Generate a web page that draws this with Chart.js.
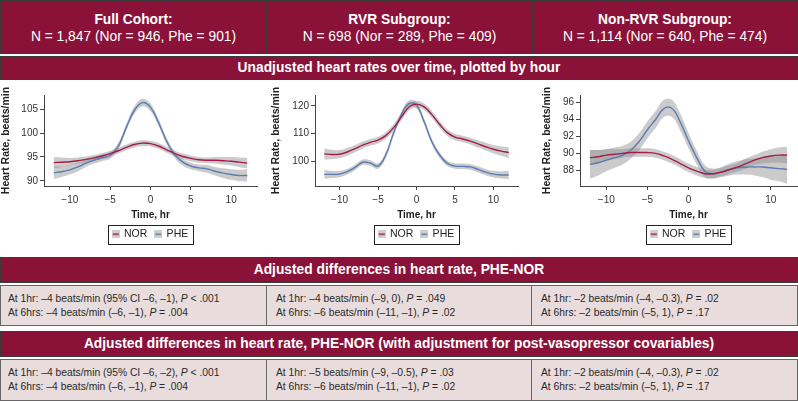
<!DOCTYPE html>
<html>
<head>
<meta charset="utf-8">
<script src="https://cdn.jsdelivr.net/npm/chart.js@4.4.1/dist/chart.umd.min.js"></script>
<style>
  body { margin: 0; width: 798px; height: 401px; overflow: hidden; background: #fff;
         font-family: "Liberation Sans", Arial, sans-serif; position: relative; }
  .box { position: absolute; box-sizing: border-box; }
  .mar { background: #8a1239; color: #fff; border: 1px solid #3a3a3a; }
  .hdr { text-align: center; font-size: 13.8px; line-height: 17px; padding-top: 10px; }
  .ban { text-align: center; font-weight: bold; font-size: 13.8px; }
  .cell { background: #e8dcdd; border: 1px solid #666; color: #2a2a2a; font-size: 10.3px;
          line-height: 14px; padding: 6px 0 0 7px; }
  canvas { position: absolute; top: 80px; }
</style>
</head>
<body>

<!-- cabecera de cohortes -->
<div class="box mar hdr" style="left:0;top:0;width:267px;height:54px"><b>Full Cohort:</b><br>N = 1,847 (Nor = 946, Phe = 901)</div>
<div class="box mar hdr" style="left:266px;top:0;width:267px;height:54px"><b>RVR Subgroup:</b><br>N = 698 (Nor = 289, Phe = 409)</div>
<div class="box mar hdr" style="left:532px;top:0;width:266px;height:54px"><b>Non-RVR Subgroup:</b><br>N = 1,114 (Nor = 640, Phe = 474)</div>

<div class="box mar ban" style="left:0;top:56px;width:798px;height:24px;line-height:22px">Unadjusted heart rates over time, plotted by hour</div>

<canvas id="c1" width="266" height="172" style="left:0"></canvas>
<canvas id="c2" width="266" height="172" style="left:266px"></canvas>
<canvas id="c3" width="266" height="172" style="left:532px"></canvas>

<div class="box mar ban" style="left:0;top:257px;width:798px;height:26px;line-height:24px">Adjusted differences in heart rate, PHE-NOR</div>
<div class="box cell" style="left:0;top:285px;width:267px;height:41px">At 1hr: –4 beats/min (95% CI –6, –1), <i>P</i> &lt; .001<br>At 6hrs: –4 beats/min (–6, –1), <i>P</i> = .004</div>
<div class="box cell" style="left:266px;top:285px;width:266px;height:41px;padding-left:9px">At 1hr: –4 beats/min (–9, 0), <i>P</i> = .049<br>At 6hrs: –6 beats/min (–11, –1), <i>P</i> = .02</div>
<div class="box cell" style="left:531px;top:285px;width:267px;height:41px;padding-left:9px">At 1hr: –2 beats/min (–4, –0.3), <i>P</i> = .02<br>At 6hrs: –2 beats/min (–5, 1), <i>P</i> = .17</div>

<div class="box mar ban" style="left:0;top:331px;width:798px;height:26px;line-height:24px">Adjusted differences in heart rate, PHE-NOR (with adjustment for post-vasopressor covariables)</div>
<div class="box cell" style="left:0;top:359px;width:267px;height:42px">At 1hr: –4 beats/min (95% CI –6, –2), <i>P</i> &lt; .001<br>At 6hrs: –4 beats/min (–6, –1), <i>P</i> = .004</div>
<div class="box cell" style="left:266px;top:359px;width:266px;height:42px;padding-left:9px">At 1hr: –5 beats/min (–9, –0.5), <i>P</i> = .03<br>At 6hrs: –6 beats/min (–11, –1), <i>P</i> = .02</div>
<div class="box cell" style="left:531px;top:359px;width:267px;height:42px;padding-left:9px">At 1hr: –2 beats/min (–4, –0.3), <i>P</i> = .02<br>At 6hrs: –2 beats/min (–5, 1), <i>P</i> = .17</div>

<script>
// ==========================
//  DATOS (horas -12..12)
// ==========================
const hours = [-12,-11,-10,-9,-8,-7,-6,-5,-4,-3,-2,-1,0,1,2,3,4,5,6,7,8,9,10,11,12];
const xTicks = [-10, -5, 0, 5, 10];

// Full cohort
const nor1   = [93.8,93.9,94.0,94.2,94.5,94.8,95.2,95.7,96.3,97.0,97.6,97.9,97.8,97.3,96.5,95.7,95.1,94.7,94.4,94.3,94.3,94.2,94.1,93.9,93.7];
const nor1Lo = [92.6,92.9,93.2,93.5,93.9,94.2,94.6,95.1,95.7,96.4,97.0,97.3,97.2,96.7,95.9,95.1,94.5,94.1,93.8,93.7,93.6,93.4,93.2,92.9,92.6];
const nor1Hi = [95.0,94.9,94.8,94.9,95.1,95.4,95.8,96.3,96.9,97.6,98.2,98.5,98.4,97.9,97.1,96.3,95.7,95.3,95.0,94.9,95.0,95.0,95.0,94.9,94.8];
const phe1   = [91.7,91.9,92.3,92.9,93.7,94.3,94.8,95.3,97.2,101.2,104.8,106.4,105.4,102.2,98.3,95.5,93.9,93.1,92.7,92.5,92.0,91.6,91.3,91.1,91.1];
const phe1Lo = [90.4,90.8,91.3,92.0,92.9,93.6,94.1,94.6,96.5,100.5,104.0,105.6,104.6,101.5,97.6,94.8,93.2,92.4,92.0,91.7,91.1,90.6,90.2,89.9,89.8];
const phe1Hi = [93.0,93.0,93.3,93.8,94.5,95.0,95.5,96.0,97.9,101.9,105.6,107.2,106.2,102.9,99.0,96.2,94.6,93.8,93.4,93.3,92.9,92.6,92.4,92.3,92.4];
const yTicks1 = [90, 95, 100, 105];

// RVR subgroup
const nor2   = [102.6,102.4,102.5,103.3,104.5,105.8,106.8,107.6,109.2,112.0,115.8,119.5,120.6,119.6,116.8,113.3,110.3,108.7,108.0,107.2,106.2,105.2,104.3,103.6,103.1];
const nor2Lo = [100.6,100.7,101.0,101.9,103.2,104.5,105.6,106.4,108.0,110.8,114.6,118.3,119.4,118.4,115.6,112.1,109.1,107.5,106.8,106.0,104.9,103.8,102.8,101.9,101.1];
const nor2Hi = [104.6,104.1,104.0,104.7,105.8,107.1,108.0,108.8,110.4,113.2,117.0,120.7,121.8,120.8,118.0,114.5,111.5,109.9,109.2,108.4,107.5,106.6,105.8,105.3,105.1];
const phe2   = [95.2,95.2,95.3,96.2,97.7,99.6,99.3,98.2,102.2,110.0,116.6,120.8,120.2,114.2,107.0,102.2,99.2,98.2,98.1,97.9,97.0,96.0,95.3,95.0,95.0];
const phe2Lo = [93.6,93.9,94.2,95.2,96.7,98.6,98.3,97.2,101.1,108.9,115.5,119.7,119.1,113.1,105.9,101.2,98.2,97.2,97.1,96.9,95.9,94.9,94.1,93.7,93.4];
const phe2Hi = [96.8,96.5,96.4,97.2,98.7,100.6,100.3,99.2,103.3,111.1,117.7,121.9,121.3,115.3,108.1,103.2,100.2,99.2,99.1,98.9,98.1,97.1,96.5,96.3,96.6];
const yTicks2 = [100, 110, 120];

// Non-RVR subgroup
const nor3   = [89.5,89.6,89.8,89.9,90.0,90.1,90.1,90.1,90.0,89.7,89.3,88.8,88.3,87.9,87.6,87.6,87.8,88.1,88.4,88.8,89.2,89.5,89.7,89.8,89.8];
const nor3Lo = [88.6,88.8,89.1,89.3,89.5,89.6,89.6,89.6,89.5,89.2,88.8,88.3,87.8,87.4,87.1,87.1,87.3,87.6,87.9,88.2,88.6,88.8,88.9,88.9,88.8];
const nor3Hi = [90.4,90.4,90.5,90.5,90.5,90.6,90.6,90.6,90.5,90.2,89.8,89.3,88.8,88.4,88.1,88.1,88.3,88.6,88.9,89.4,89.8,90.2,90.5,90.7,90.8];
const phe3   = [88.7,88.9,89.2,89.5,89.8,90.4,91.4,92.8,94.0,95.3,95.3,93.7,91.5,89.5,87.9,87.6,87.8,88.1,88.3,88.4,88.4,88.4,88.3,88.2,88.1];
const phe3Lo = [87.0,87.4,87.9,88.3,88.7,89.4,90.4,91.8,93.0,94.3,94.3,92.7,90.6,88.7,87.2,87.0,87.2,87.4,87.5,87.5,87.4,87.2,86.9,86.7,86.4];
const phe3Hi = [90.4,90.4,90.5,90.7,90.9,91.4,92.4,93.8,95.0,96.3,96.3,94.7,92.4,90.3,88.6,88.2,88.4,88.8,89.1,89.3,89.4,89.6,89.7,89.7,89.8];
const yTicks3 = [88, 90, 92, 94, 96];

// ==========================
//  ESTILO
// ==========================
const NOR_COLOR = '#a51c4c';
const PHE_COLOR = '#5a7db4';
const BAND = 'rgba(140,140,140,0.45)';
const AXIS = '#444';

function keyImg(color) {
  const c = document.createElement('canvas');
  c.width = 8; c.height = 8;
  const g = c.getContext('2d');
  g.fillStyle = '#cfcfcf';
  g.fillRect(0, 0, 8, 8);
  g.strokeStyle = color;
  g.lineWidth = 1.5;
  g.beginPath(); g.moveTo(1, 4); g.lineTo(7, 4); g.stroke();
  return c;
}

// leyenda centrada bajo el area del grafico, con marco
const legendFrame = {
  id: 'legendFrame',
  afterLayout(chart) {
    const lg = chart.legend, ca = chart.chartArea;
    if (!lg) return;
    lg.left = ca.left;
    lg.right = ca.right;
    lg.width = ca.right - ca.left;
  },
  afterDraw(chart) {
    const hb = chart.legend && chart.legend.legendHitBoxes;
    if (!hb || !hb.length) return;
    const ctx = chart.ctx;
    const l = Math.min(...hb.map(b => b.left)) - 4.5;
    const r = Math.max(...hb.map(b => b.left + b.width)) + 5;
    const t = hb[0].top - 4;
    const b = hb[0].top + hb[0].height + 4;
    ctx.save();
    ctx.strokeStyle = '#222';
    ctx.lineWidth = 1;
    ctx.strokeRect(Math.round(l) + 0.5, Math.round(t) + 0.5, Math.round(r - l), Math.round(b - t));
    ctx.restore();
  }
};

const pts = arr => hours.map((h, i) => ({ x: h, y: arr[i] }));
const minus = v => v < 0 ? '\u2212' + Math.abs(v) : String(v);

function line(label, arr, color) {
  return { label, data: pts(arr), borderColor: color, borderWidth: 1.4, pointRadius: 0,
           fill: false, tension: 0.4, order: 0, pointStyle: keyImg(color) };
}
function band(arr, target) {
  return { label: '', data: pts(arr), borderWidth: 0, borderColor: 'transparent', pointRadius: 0,
           backgroundColor: BAND, fill: target, tension: 0.4, order: 1 };
}

function makeChart(id, s, yTicks, yMin, yMax, padL, yW, padR) {
  return new Chart(document.getElementById(id), {
    type: 'line',
    data: {
      datasets: [
        line('NOR', s.nor, NOR_COLOR),
        line('PHE', s.phe, PHE_COLOR),
        band(s.norLo, false),
        band(s.norHi, 2),
        band(s.pheLo, false),
        band(s.pheHi, 4)
      ]
    },
    options: {
      responsive: false,
      animation: false,
      devicePixelRatio: 1,
      layout: { padding: { top: 15, right: padR, bottom: 2.5, left: padL } },
      plugins: {
        tooltip: { enabled: false },
        legend: {
          position: 'bottom',
          labels: {
            filter: item => item.datasetIndex < 2,
            usePointStyle: true, boxWidth: 6, boxHeight: 8, padding: 8,
            color: '#222', font: { size: 10.5 }
          }
        }
      },
      scales: {
        x: {
          type: 'linear', min: -13.2, max: 13.2,
          afterBuildTicks: sc => { sc.ticks = xTicks.map(v => ({ value: v })); },
          afterFit: sc => { sc.height = 35; },
          grid: { drawOnChartArea: false, tickLength: 4, color: AXIS },
          border: { display: true, color: AXIS, width: 1 },
          ticks: { color: '#333', font: { size: 10 }, padding: 4, maxRotation: 0, callback: minus },
          title: { display: true, text: 'Time, hr', color: '#222', font: { size: 10, weight: 'bold' }, padding: { top: 3, bottom: 0 } }
        },
        y: {
          min: yMin, max: yMax,
          afterBuildTicks: sc => { sc.ticks = yTicks.map(v => ({ value: v })); },
          afterFit: sc => { sc.width = yW; },
          grid: { drawOnChartArea: false, tickLength: 4, color: AXIS },
          border: { display: true, color: AXIS, width: 1 },
          ticks: { color: '#333', font: { size: 10 }, padding: 2 },
          title: { display: true, text: 'Heart Rate, beats/min', color: '#222', font: { size: 10.5, weight: 'bold' }, padding: 0 }
        }
      }
    },
    plugins: [legendFrame]
  });
}

makeChart('c1', { nor: nor1, norLo: nor1Lo, norHi: nor1Hi, phe: phe1, pheLo: phe1Lo, pheHi: phe1Hi }, yTicks1, 88.9, 108.0, 0, 44, 9);
makeChart('c2', { nor: nor2, norLo: nor2Lo, norHi: nor2Hi, phe: phe2, pheLo: phe2Lo, pheHi: phe2Hi }, yTicks2, 91.0, 123.9, 4, 45, 14);
makeChart('c3', { nor: nor3, norLo: nor3Lo, norHi: nor3Hi, phe: phe3, pheLo: phe3Lo, pheHi: phe3Hi }, yTicks3, 86.15, 96.9, 9, 39, 1);
</script>
</body>
</html>
